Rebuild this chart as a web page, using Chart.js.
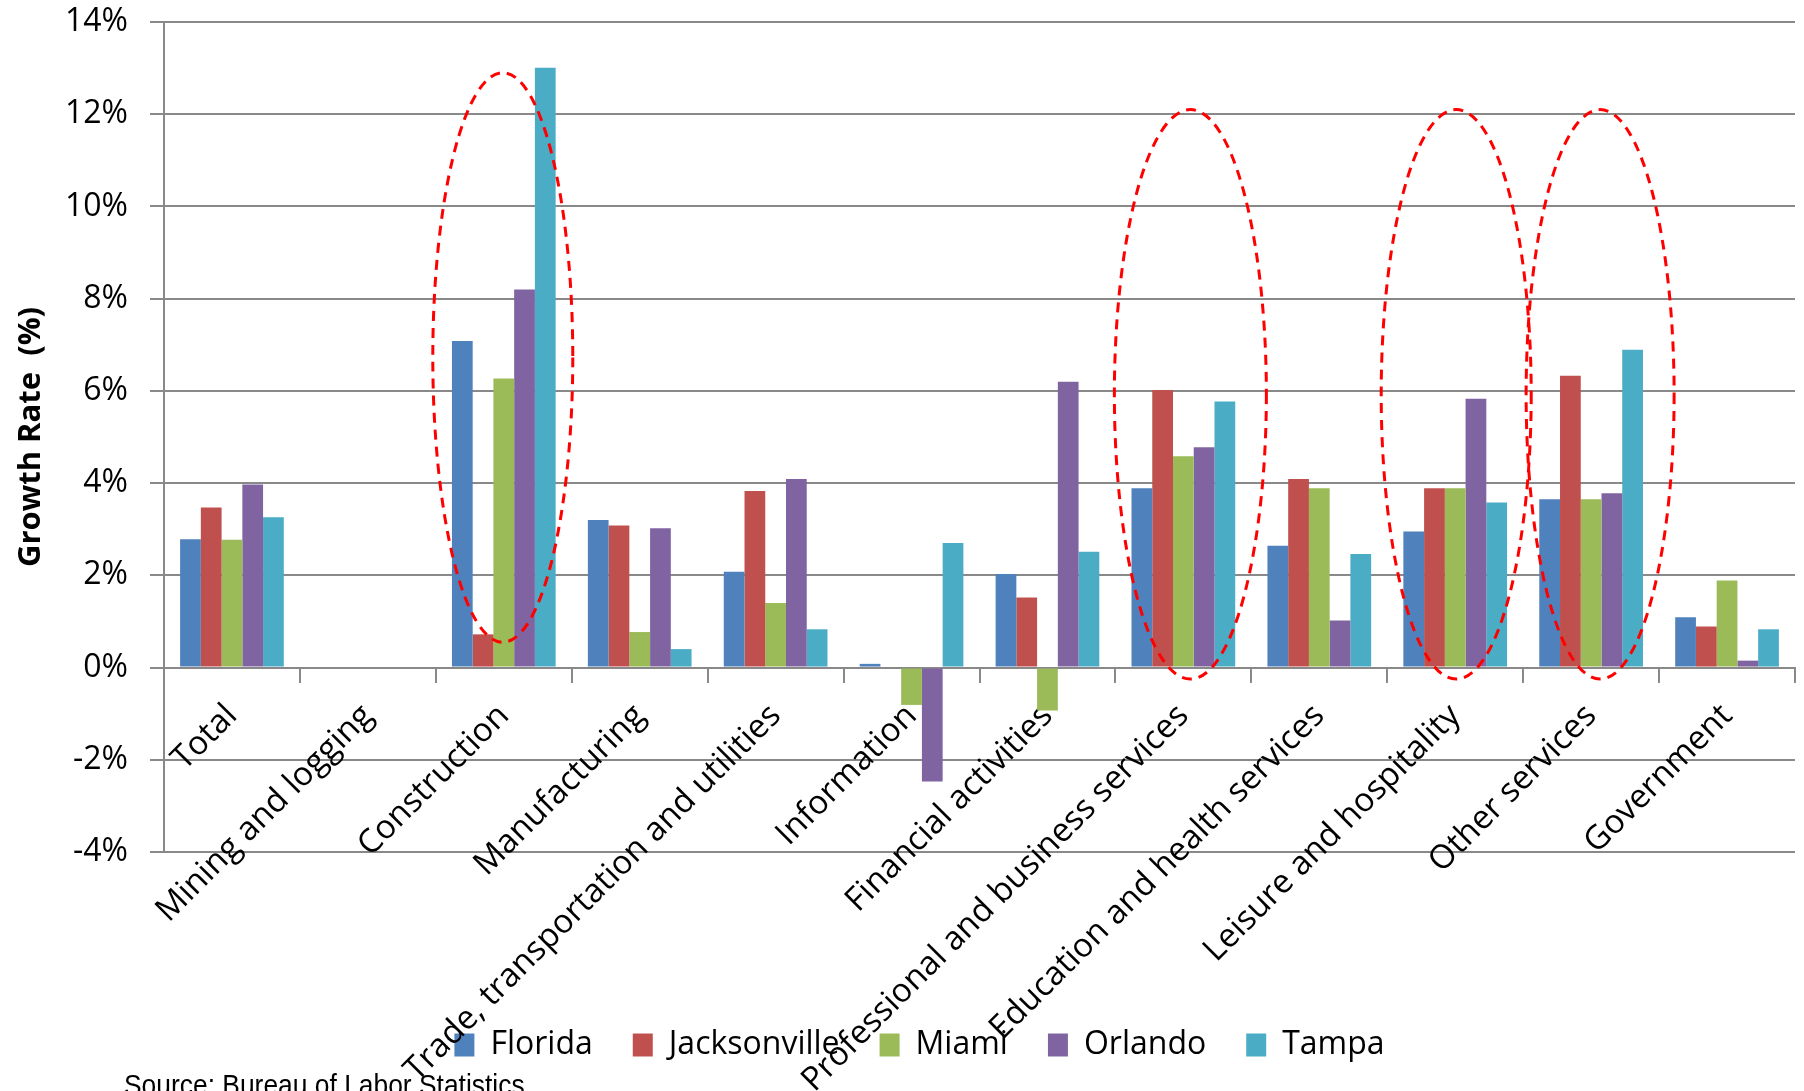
<!DOCTYPE html>
<html>
<head>
<meta charset="utf-8">
<script src="https://cdn.jsdelivr.net/npm/chart.js@4/dist/chart.umd.min.js"></script>
<style>
  html, body { margin: 0; padding: 0; background: #ffffff; }
  #wrap { width: 1804px; height: 1091px; }
</style>
</head>
<body>
<div id="wrap"><canvas id="chart" width="1804" height="1091"></canvas></div>
<script>
// Employment growth by industry, Florida and its metro areas (%)
const categories = [
  'Total', 'Mining and logging', 'Construction', 'Manufacturing',
  'Trade, transportation and utilities', 'Information', 'Financial activities',
  'Professional and business services', 'Education and health services',
  'Leisure and hospitality', 'Other services', 'Government'
];
const seriesNames = ['Florida', 'Jacksonville', 'Miami', 'Orlando', 'Tampa'];
const florida      = [2.78, null, 7.08, 3.20, 2.08, 0.08, 2.03, 3.89, 2.64, 2.95, 3.65, 1.09];
const jacksonville = [3.47, null, 0.72, 3.08, 3.83, 0.00, 1.52, 6.02, 4.09, 3.89, 6.33, 0.89];
const miami        = [2.77, null, 6.27, 0.77, 1.40, -0.81, -0.93, 4.58, 3.89, 3.89, 3.65, 1.89];
const orlando      = [3.97, null, 8.20, 3.02, 4.09, -2.47, 6.20, 4.78, 1.02, 5.83, 3.78, 0.15];
const tampa        = [3.26, null, 13.01, 0.40, 0.83, 2.70, 2.51, 5.77, 2.46, 3.58, 6.89, 0.83];

// Value axis range and step (%)
const yMin = -4, yMax = 14, yStep = 2;

// Industries circled for emphasis, with the value span each ring covers
const highlightCategories = ['Construction', 'Professional and business services', 'Leisure and hospitality', 'Other services'];
const highlightTop    = [12.9, 12.1, 12.1, 12.1];
const highlightBottom = [0.55, -0.25, -0.25, -0.25];

const sourceNote = 'Source: Bureau of Labor Statistics';

// ---- styling ----
const seriesColors = ['#4F81BD', '#C0504D', '#9BBB59', '#8064A2', '#4BACC6'];
const gridColor = '#898989';
const ringStyle = { halfWidth: [70, 76, 75, 74], shift: [-1, 7, 1, 9] };
const FONT = "'Open Sans', 'DejaVu Sans', sans-serif";

const seriesValues = [florida, jacksonville, miami, orlando, tampa];
const datasets = seriesNames.map((name, i) => ({
  label: name,
  data: seriesValues[i],
  backgroundColor: seriesColors[i],
  borderWidth: 0,
  categoryPercentage: 0.763,
  barPercentage: 1.0
}));

// Dashed red rings around highlighted industries
const ringPlugin = {
  id: 'highlightRings',
  afterDatasetsDraw(chart) {
    const { ctx, scales: { x, y } } = chart;
    ctx.save();
    ctx.strokeStyle = '#FF0000';
    ctx.lineWidth = 3;
    ctx.setLineDash([10, 7]);
    highlightCategories.forEach((cat, i) => {
      const idx = categories.indexOf(cat);
      const cx = x.getPixelForValue(idx) + ringStyle.shift[i];
      const top = y.getPixelForValue(highlightTop[i]);
      const bottom = y.getPixelForValue(highlightBottom[i]);
      ctx.beginPath();
      ctx.ellipse(cx, (top + bottom) / 2, ringStyle.halfWidth[i], (bottom - top) / 2, 0, 0, Math.PI * 2);
      ctx.stroke();
    });
    ctx.restore();
  }
};

// Nudge the legend row a little right of the canvas centre
const legendShiftPlugin = {
  id: 'legendShift',
  afterLayout(chart) {
    if (chart.legend) {
      chart.legend.left += 22;
      chart.legend.right += 22;
    }
  }
};

// Source line in the bottom-left corner
const sourcePlugin = {
  id: 'sourceNote',
  afterDraw(chart) {
    const { ctx } = chart;
    ctx.save();
    ctx.fillStyle = '#000000';
    ctx.font = "30px 'Liberation Sans', Arial, sans-serif";
    ctx.textAlign = 'left';
    ctx.textBaseline = 'alphabetic';
    ctx.translate(124, 1095);
    ctx.scale(0.88, 1);
    ctx.fillText(sourceNote, 0, 0);
    ctx.restore();
  }
};

new Chart(document.getElementById('chart'), {
  type: 'bar',
  data: { labels: categories, datasets },
  plugins: [ringPlugin, legendShiftPlugin, sourcePlugin],
  options: {
    responsive: false,
    animation: false,
    devicePixelRatio: 1,
    layout: { padding: { top: 22, right: 9, bottom: 20, left: 0 } },
    plugins: {
      tooltip: { enabled: false },
      legend: {
        position: 'bottom',
        title: { display: true, text: '', font: { size: 10, lineHeight: 1 }, padding: { top: 127, bottom: 0 } },
        labels: {
          boxWidth: 20,
          boxHeight: 23,
          padding: 40,
          color: '#000000',
          font: { family: FONT, size: 32 }
        }
      }
    },
    scales: {
      x: {
        position: { y: 0 },
        grid: {
          display: true,
          drawOnChartArea: false,
          drawTicks: true,
          tickLength: 14,
          color: gridColor,
          lineWidth: 2
        },
        border: { display: true, color: gridColor, width: 2 },
        ticks: {
          autoSkip: false,
          minRotation: 45,
          maxRotation: 45,
          padding: 15,
          color: '#000000',
          font: { family: FONT, size: 33 }
        }
      },
      y: {
        min: yMin,
        max: yMax,
        afterFit(scale) {
          scale.width = 164;
          // tick labels may overhang the plot edges; keep the plot flush with the layout padding
          scale.paddingTop = 0;
          scale.paddingBottom = 0;
        },
        ticks: {
          stepSize: yStep,
          padding: 22,
          color: '#000000',
          font: { family: FONT, size: 32 },
          callback: (v) => v + '%'
        },
        grid: {
          color: gridColor,
          lineWidth: 2,
          drawTicks: true,
          tickLength: 14
        },
        border: { display: true, color: gridColor, width: 2 },
        title: {
          display: true,
          text: 'Growth Rate  (%)',
          color: '#000000',
          font: { family: FONT, size: 31, weight: 'bold' },
          padding: { top: 13, bottom: 0 }
        }
      }
    }
  }
});
</script>
</body>
</html>
